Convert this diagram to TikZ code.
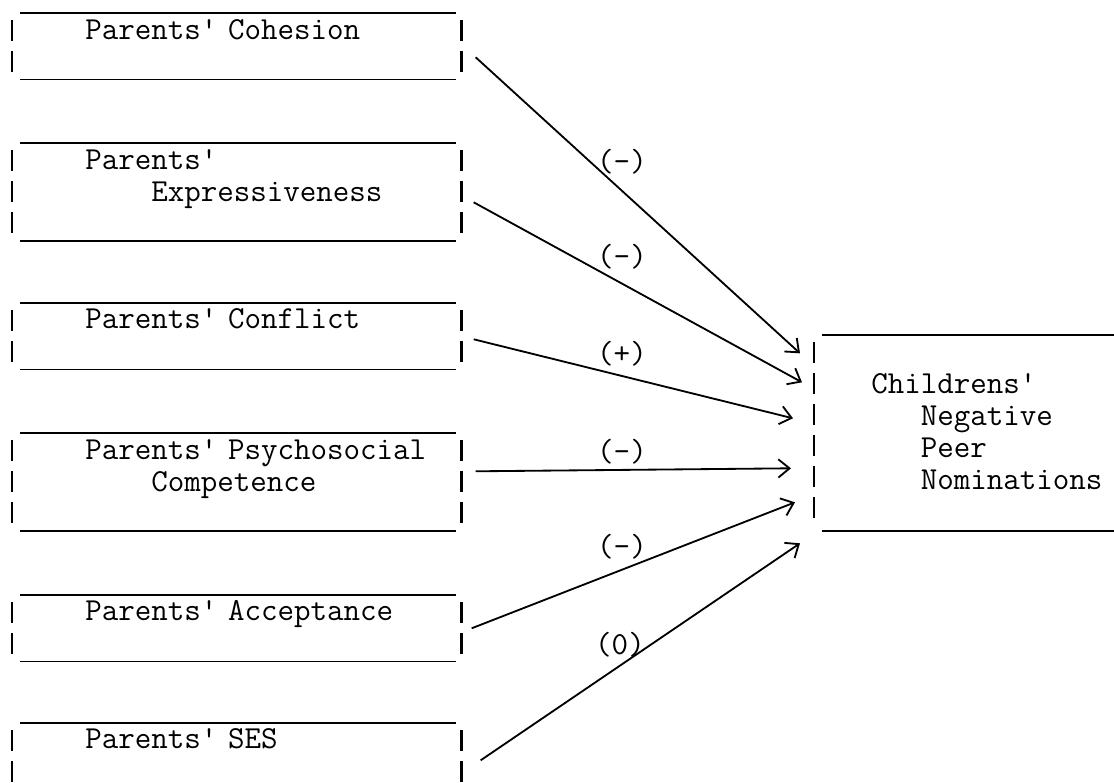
\documentclass[tikz,border=0pt]{standalone}
\usetikzlibrary{calc,arrows.meta}

\begin{document}
\begin{tikzpicture}[x=0.025cm,y=-0.025cm]
\tikzstyle{frame}=[draw=none,inner sep=0pt,anchor=north west,minimum width=11.225cm]
\tikzstyle{rule}=[line width=1.3pt]
\tikzstyle{bar}=[line width=1.8pt,dash pattern=on 14.94pt off 7.11pt]
\tikzstyle{txt}=[inner sep=0pt,anchor=base west,align=left,text width=9cm,font=\ttfamily\fontsize{22.8}{22.76}\selectfont]
\tikzstyle{sign}=[inner sep=0pt,font=\ttfamily\fontsize{22.8}{22.76}\selectfont]
\tikzstyle{link}=[line width=1.3pt,-{Straight Barb[length=8pt,width=13pt,line width=1.3pt]}]

\useasboundingbox (0,0) rectangle (1114,783);
\clip (0,0) rectangle (1114,783);

% boxes
\node (coh) [frame,minimum height=1.65cm] at (12,13) {};
\node (exp) [frame,minimum height=2.425cm] at (12,143) {};
\node (con) [frame,minimum height=1.65cm] at (12,303) {};
\node (psy) [frame,minimum height=2.425cm] at (12,433) {};
\node (acc) [frame,minimum height=1.65cm] at (12,595) {};
\node (ses) [frame,minimum height=1.65cm] at (12,723) {};
\node (kid) [frame,minimum width=8cm,minimum height=4.875cm] at (814,335) {};

\foreach \b in {coh,exp,con,psy,acc,ses,kid} {
  \draw [rule] ($(\b.north west)+(8,0)$) -- ($(\b.north east)+(-6,0)$);
  \draw [rule] ($(\b.south west)+(8,0)$) -- ($(\b.south east)+(-6,0)$);
  \draw [bar] ($(\b.north west)+(0,7)$) -- ($(\b.south west)+(0,-7)$);
  \draw [bar] ($(\b.north east)+(0,7)$) -- ($(\b.south east)+(0,-7)$);
}

\node (coh-t) [txt] at ($(coh.north west)+(73,26)$) {Parents' Cohesion};
\node (exp-t) [txt] at ($(exp.north west)+(73,26)$) {Parents'\\\phantom{xxxx}Expressiveness};
\node (con-t) [txt] at ($(con.north west)+(73,25)$) {Parents' Conflict};
\node (psy-t) [txt] at ($(psy.north west)+(73,26)$) {Parents' Psychosocial\\\phantom{xxxx}Competence};
\node (acc-t) [txt] at ($(acc.north west)+(73,25)$) {Parents' Acceptance};
\node (ses-t) [txt] at ($(ses.north west)+(73,25)$) {Parents' SES};
\node (kid-t) [txt] at ($(kid.north west)+(57,58)$) {Childrens'\\\phantom{xxx}Negative\\\phantom{xxx}Peer\\\phantom{xxx}Nominations};

% paths
\draw [link] ($(coh.east)+(14,11)$) -- ($(kid.west)+(-14,-79.5)$);
\draw [link] ($(exp.east)+(12,10.5)$) -- ($(kid.west)+(-12,-50.5)$);
\draw [link] ($(con.east)+(12,3)$) -- ($(kid.west)+(-21,-14.5)$);
\draw [link] ($(psy.east)+(14,-10.5)$) -- ($(kid.west)+(-23,35.5)$);
\draw [link] ($(acc.east)+(10,0)$) -- ($(kid.west)+(-19,69.5)$);
\draw [link] ($(ses.east)+(19,4)$) -- ($(kid.west)+(-14,110.5)$);

\node (s1) [sign] at (622,162) {(-)};
\node (s2) [sign] at (622,257) {(-)};
\node (s3) [sign] at (622,354) {(+)};
\node (s4) [sign] at (622,452) {(-)};
\node (s5) [sign] at (622,547) {(-)};
\node (s6) [sign] at (620,645) {(0)};

\end{tikzpicture}
\end{document}
